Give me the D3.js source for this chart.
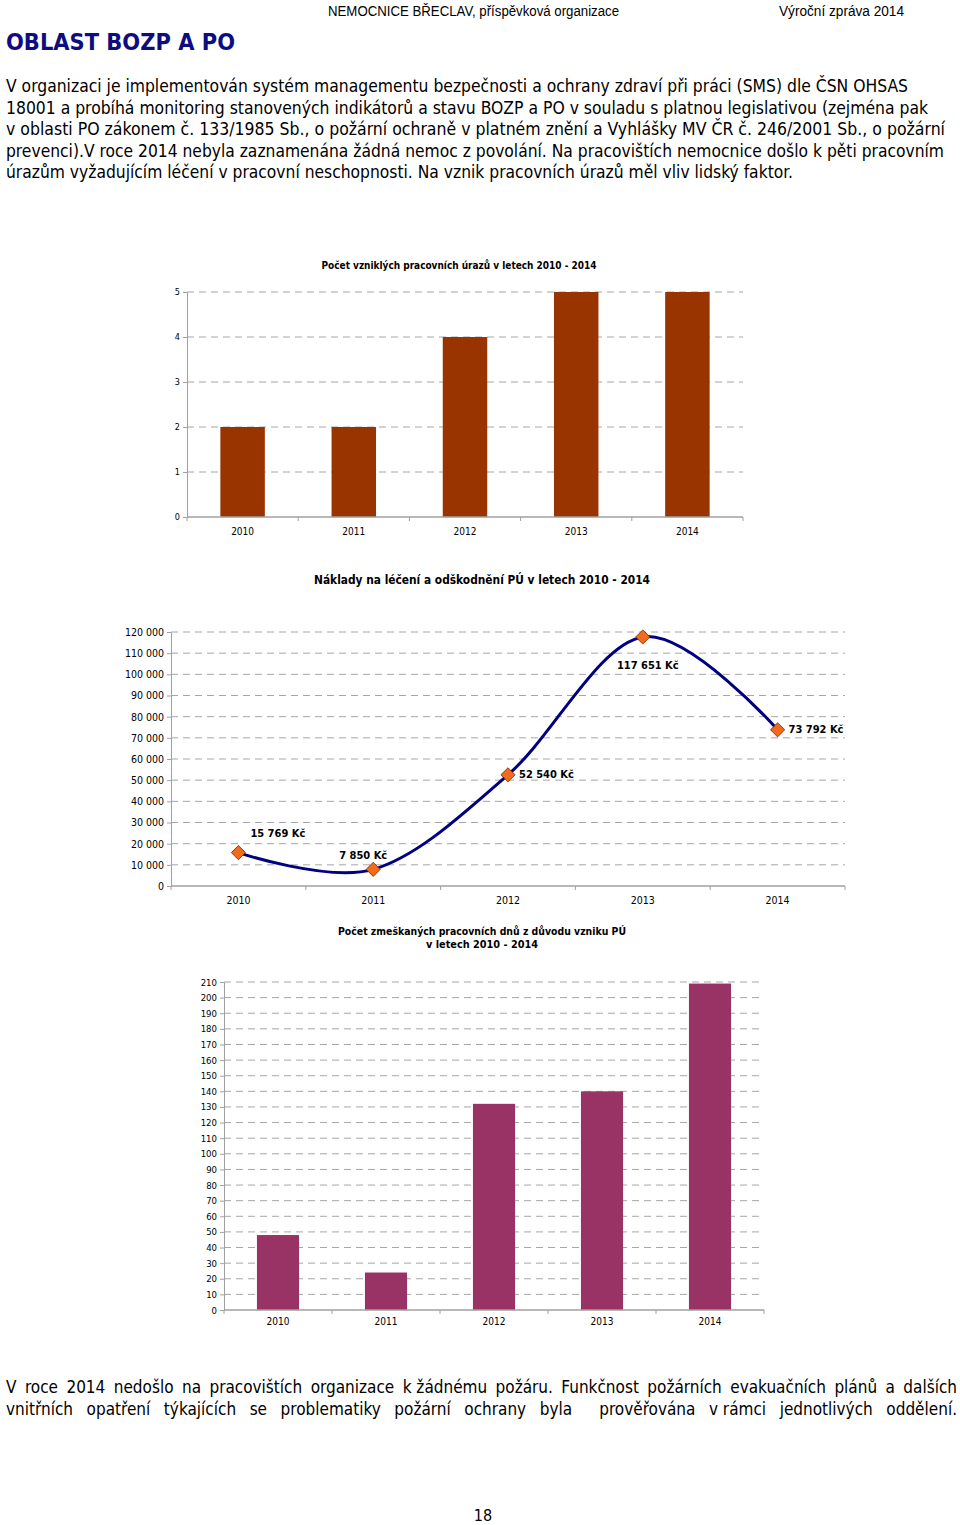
<!DOCTYPE html>
<html>
<head>
<meta charset="utf-8">
<script src="https://cdn.jsdelivr.net/npm/d3@7"></script>
<style>
  body { margin: 0; background: #fff; }
  svg { display: block; }
</style>
</head>
<body>
<div id="page"></div>
<script>
// Data.
const years = ['2010', '2011', '2012', '2013', '2014'];
const injuries = [2, 2, 4, 5, 5];
const costs = [15769, 7850, 52540, 117651, 73792];
const missedDays = [48, 24, 132, 140, 209];

const injuryTicks = [0, 1, 2, 3, 4, 5];
const costTicks = [0, 10000, 20000, 30000, 40000, 50000, 60000, 70000, 80000, 90000, 100000, 110000, 120000];
const dayTicks = [0, 10, 20, 30, 40, 50, 60, 70, 80, 90, 100, 110, 120, 130, 140, 150, 160, 170, 180, 190, 200, 210];

const headerLeft = 'NEMOCNICE BŘECLAV,  příspěvková organizace';
const headerRight = 'Výroční zpráva 2014';
const pageTitle = 'OBLAST BOZP A PO';
const introLines = [
  'V organizaci je implementován systém managementu bezpečnosti a ochrany zdraví při práci (SMS) dle ČSN OHSAS',
  '18001 a probíhá monitoring stanovených indikátorů a stavu BOZP a PO v souladu s platnou legislativou (zejména pak',
  'v oblasti PO zákonem č. 133/1985 Sb., o požární ochraně v platném znění a Vyhlášky MV ČR č. 246/2001 Sb., o požární',
  'prevenci).V roce 2014 nebyla zaznamenána žádná nemoc z povolání. Na pracovištích nemocnice došlo k pěti pracovním',
  'úrazům vyžadujícím léčení v pracovní neschopnosti. Na vznik pracovních úrazů měl vliv lidský faktor.'
];
// '\u00a0' marks the narrow non-breaking spaces of the original justified text
const fireLines = [
  'V roce 2014 nedošlo na pracovištích organizace k\u00a0žádnému požáru. Funkčnost požárních evakuačních plánů a dalších',
  'vnitřních opatření týkajících se problematiky požární ochrany byla  prověřována v\u00a0rámci jednotlivých oddělení.'
];
const chart1Title = 'Počet vzniklých pracovních úrazů v letech 2010 - 2014';
const chart2Title = 'Náklady na léčení a odškodnění PÚ v letech 2010 - 2014';
const chart3Title = ['Počet zmeškaných pracovních dnů z důvodu vzniku PÚ', 'v letech 2010 - 2014'];
const pageNumber = '18';

// Layout.
const W = 960, H = 1525;
const bodyFont = "'DejaVu Sans Condensed', 'DejaVu Sans', sans-serif";
const chartFont = "'DejaVu Sans Condensed', 'DejaVu Sans', sans-serif";
const gridColor = '#a6a6a6';
const axisColor = '#a0a0a0';

const svg = d3.select('#page').append('svg')
  .attr('width', W)
  .attr('height', H)
  .style('background', '#fff');

function text(g, x, y, s, o = {}) {
  const t = g.append('text')
    .attr('x', x)
    .attr('y', y)
    .attr('font-family', o.family || chartFont)
    .attr('font-size', o.size || 10)
    .attr('font-weight', o.weight || 'normal')
    .attr('text-anchor', o.anchor || 'start')
    .attr('fill', o.fill || '#000')
    .text(s);
  if (o.baseline) t.attr('dominant-baseline', o.baseline);
  if (o.width) {
    t.attr('textLength', o.width).attr('lengthAdjust', 'spacingAndGlyphs');
  }
  return t;
}

// Spread words of a line across a fixed width (justified paragraph).
// Empty tokens (double spaces) count as an extra gap.
function justified(g, x, y, width, s, o) {
  const tokens = s.split(' ');
  const words = tokens.filter(w => w.length);
  const tmp = words.map(w => text(g, 0, y, w, o));
  const widths = tmp.map(t => t.node().getComputedTextLength());
  const gap = (width - d3.sum(widths)) / (tokens.length - 1);
  let cx = x, k = 0;
  tokens.forEach(w => {
    if (!w.length) { cx += gap; return; }
    tmp[k].attr('x', cx);
    cx += widths[k] + gap;
    k++;
  });
}

// Page header and text.
text(svg, 328, 16, headerLeft, { family: "'Liberation Sans', Arial, sans-serif", size: 14, width: 291 });
text(svg, 779, 16, headerRight, { family: "'Liberation Sans', Arial, sans-serif", size: 14, width: 125 });
text(svg, 6, 50, pageTitle, { family: bodyFont, size: 23, weight: 'bold', fill: '#0d0d80', width: 229 });

const introWidths = [902, 922, 939, 938, 787];
introLines.forEach((s, i) => {
  text(svg, 6, 92 + i * 21.6, s, { family: bodyFont, size: 17, width: introWidths[i] });
});

fireLines.forEach((s, i) => {
  justified(svg, 6, 1393 + i * 22, 951, s, { family: bodyFont, size: 17 });
});

text(svg, 483, 1521, pageNumber, { family: bodyFont, size: 16, anchor: 'middle' });

// Shared helpers for the three charts.
function yGrid(g, y, ticks, x0, x1) {
  g.append('g').attr('class', 'grid')
    .selectAll('line')
    .data(ticks.filter(d => d !== 0))
    .join('line')
    .attr('x1', x0)
    .attr('x2', x1)
    .attr('y1', d => y(d))
    .attr('y2', d => y(d))
    .attr('stroke', gridColor)
    .attr('stroke-width', 1)
    .attr('stroke-dasharray', '7 5');
}

function yAxis(g, y, ticks, x0, fmt, size) {
  const ax = g.append('g')
    .attr('transform', `translate(${x0},0)`)
    .call(d3.axisLeft(y).tickValues(ticks).tickSize(4).tickPadding(3).tickFormat(fmt));
  ax.select('.domain').attr('stroke', axisColor);
  ax.selectAll('.tick line').attr('stroke', axisColor);
  ax.selectAll('.tick text')
    .attr('font-family', chartFont)
    .attr('font-size', size)
    .attr('fill', '#000');
}

function xAxis(g, x, y0, labelY, size) {
  const [r0, r1] = x.range();
  g.append('line')
    .attr('x1', r0).attr('x2', r1)
    .attr('y1', y0).attr('y2', y0)
    .attr('stroke', axisColor)
    .attr('stroke-width', 1.5);
  const bounds = d3.range(years.length + 1).map(i => r0 + i * x.step());
  g.append('g').selectAll('line')
    .data(bounds)
    .join('line')
    .attr('x1', d => d).attr('x2', d => d)
    .attr('y1', y0).attr('y2', y0 + 4)
    .attr('stroke', axisColor);
  g.append('g').selectAll('text')
    .data(years)
    .join('text')
    .attr('x', d => x(d) + x.bandwidth() / 2)
    .attr('y', labelY)
    .attr('text-anchor', 'middle')
    .attr('dominant-baseline', 'central')
    .attr('font-family', chartFont)
    .attr('font-size', size)
    .text(d => d);
}

const spaceFmt = d => d3.format(',')(d).replace(/,/g, ' ');

// Chart 1: injuries.
{
  const g = svg.append('g').attr('class', 'chart-injuries');
  const x = d3.scaleBand().domain(years).range([187, 743]).paddingInner(0.6).paddingOuter(0.3);
  const y = d3.scaleLinear().domain([0, 5]).range([517, 292]);

  text(g, 459, 269, chart1Title, { size: 10, weight: 'bold', anchor: 'middle', width: 275 });
  yGrid(g, y, injuryTicks, 187, 743);

  g.append('g').selectAll('rect')
    .data(injuries)
    .join('rect')
    .attr('x', (d, i) => x(years[i]))
    .attr('y', d => y(d))
    .attr('width', x.bandwidth())
    .attr('height', d => y(0) - y(d))
    .attr('fill', '#993300');

  yAxis(g, y, injuryTicks, 187, d3.format('d'), 9);
  xAxis(g, x, 517, 531, 10);
}

// Chart 2: costs.
{
  const g = svg.append('g').attr('class', 'chart-costs');
  const x = d3.scaleBand().domain(years).range([171, 845]).padding(0);
  const y = d3.scaleLinear().domain([0, 120000]).range([886, 632]);
  const cx = i => x(years[i]) + x.bandwidth() / 2;

  text(g, 482, 584, chart2Title, { size: 12, weight: 'bold', anchor: 'middle', width: 336 });
  yGrid(g, y, costTicks, 171, 845);
  yAxis(g, y, costTicks, 171, spaceFmt, 10.5);
  xAxis(g, x, 886, 900, 10.5);

  const line = d3.line()
    .x((d, i) => cx(i))
    .y(d => y(d))
    .curve(d3.curveCatmullRom.alpha(0));

  g.append('path')
    .datum(costs)
    .attr('d', line)
    .attr('fill', 'none')
    .attr('stroke', '#000080')
    .attr('stroke-width', 3);

  g.append('g').selectAll('path')
    .data(costs)
    .join('path')
    .attr('d', d3.symbol(d3.symbolSquare, 100))
    .attr('transform', (d, i) => `translate(${cx(i)},${y(d)}) rotate(45)`)
    .attr('fill', '#f26a1b')
    .attr('stroke', '#7a2e00')
    .attr('stroke-width', 0.8);

  // label placement relative to each marker: [dx, dy, anchor]
  const labelPlace = [[12, -19, 'start'], [-10, -14, 'middle'], [11, 0, 'start'], [5, 29, 'middle'], [11, 0, 'start']];
  g.append('g').selectAll('text')
    .data(costs)
    .join('text')
    .attr('x', (d, i) => cx(i) + labelPlace[i][0])
    .attr('y', (d, i) => y(d) + labelPlace[i][1])
    .attr('text-anchor', (d, i) => labelPlace[i][2])
    .attr('dominant-baseline', 'central')
    .attr('font-family', chartFont)
    .attr('font-size', 11)
    .attr('font-weight', 'bold')
    .text(d => spaceFmt(d) + ' Kč');
}

// Chart 3: missed working days.
{
  const g = svg.append('g').attr('class', 'chart-days');
  const x = d3.scaleBand().domain(years).range([224, 764]).paddingInner(0.61).paddingOuter(0.305);
  const y = d3.scaleLinear().domain([0, 210]).range([1310, 982]);

  text(g, 482, 935, chart3Title[0], { size: 10.5, weight: 'bold', anchor: 'middle', width: 288 });
  text(g, 482, 948, chart3Title[1], { size: 10.5, weight: 'bold', anchor: 'middle', width: 112 });
  yGrid(g, y, dayTicks, 224, 764);

  g.append('g').selectAll('rect')
    .data(missedDays)
    .join('rect')
    .attr('x', (d, i) => x(years[i]))
    .attr('y', d => y(d))
    .attr('width', x.bandwidth())
    .attr('height', d => y(0) - y(d))
    .attr('fill', '#993366');

  yAxis(g, y, dayTicks, 224, d3.format('d'), 9.5);
  xAxis(g, x, 1310, 1321, 10);
}
</script>
</body>
</html>
